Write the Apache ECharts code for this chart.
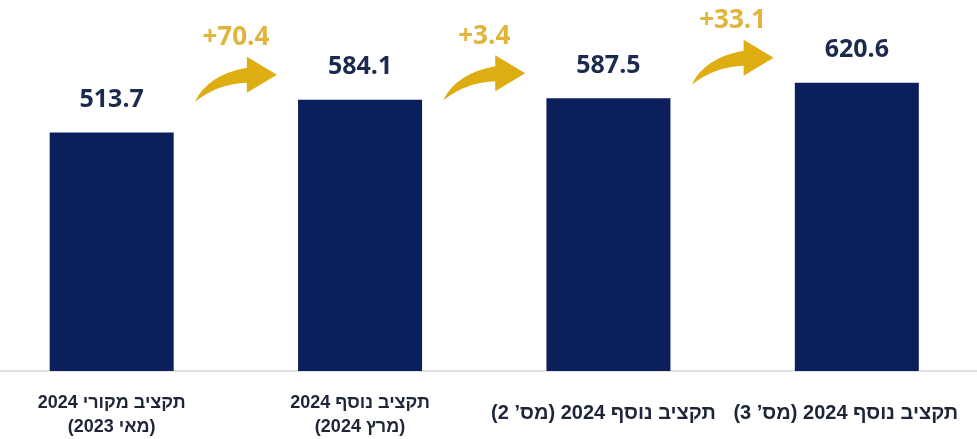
<!DOCTYPE html>
<html><head><meta charset="utf-8">
<script src="https://cdn.jsdelivr.net/npm/echarts@6/dist/echarts.min.js"></script>
<style>html,body{margin:0;padding:0;background:#fff}#c{width:977px;height:439px}</style>
</head><body><div id="c"></div>
<script>
const categories = ['תקציב מקורי 2024\n(מאי 2023)', 'תקציב נוסף 2024\n(מרץ 2024)', 'תקציב נוסף 2024 (מס’ 2)', 'תקציב נוסף 2024 (מס’ 3)'];
const budgetValues = [513.7, 584.1, 587.5, 620.6];
const changes = [70.4, 3.4, 33.1];

const RLM = '\u200F';
function rtl(s){ return s.split('\n').map(l => RLM + l + RLM).join('\n'); }
const labelStyles = [
  {padding:[0,0,0,0], fontSize:18},
  {padding:[0,0,0,0], fontSize:18},
  {padding:[10,10,0,0], fontSize:20},
  {padding:[10,22,0,0], fontSize:20}
];

const chart = echarts.init(document.getElementById('c'), null, {renderer:'canvas'});
const arrowPath = 'M-41,27 Q-28,0 11,-7 L11,-18 L41,0 L11,18 L11,8 Q-17,8.5 -41,27 Z';

chart.setOption({
  animation:false,
  grid:{left:-12.5, right:-4, top:46, bottom:68, outerBoundsMode:'none', containLabel:false},
  xAxis:{
    type:'category',
    data: categories.map((c,i)=>({value: rtl(c), textStyle: labelStyles[i]})),
    axisLine:{show:true, lineStyle:{color:'#d9d9d9', width:1.5}},
    axisTick:{show:false},
    axisLabel:{interval:0, margin:20, color:'#1e2538', fontFamily:'"Liberation Sans", "DejaVu Sans", sans-serif', fontWeight:'bold', fontSize:18, lineHeight:24}
  },
  yAxis:{type:'value', min:0, max:700, show:false, splitLine:{show:false}},
  series:[
    {type:'bar', data:budgetValues, barWidth:124, itemStyle:{color:'#0b1f5d'},
     label:{show:true, position:'top', distance:20, color:'#1b2a4f', fontFamily:'"Open Sans", sans-serif', fontWeight:'bold', fontSize:25,
            formatter: p => p.value.toFixed(1)}},
    {type:'custom', data: changes.map((d,i)=>[i, budgetValues[i+1], d]),
     encode:{x:0, y:1},
     renderItem:function(params, api){
       const i = api.value(0);
       const v = api.value(1);
       const a = api.coord([i, v]);
       const b = api.coord([i+1, v]);
       const cx = (a[0]+b[0])/2;
       const tipY = a[1] - 25;
       return {type:'group', children:[
         {type:'path', x:cx, y:tipY, shape:{pathData:arrowPath}, style:{fill:'#ddad12'}},
         {type:'text', style:{text:'+' + api.value(2).toFixed(1), x:cx, y:tipY-37, align:'center', verticalAlign:'middle',
            fill:'#e1b43c', font:'bold 26px "Open Sans", sans-serif'}}
       ]};
     }}
  ]
});
</script></body></html>
